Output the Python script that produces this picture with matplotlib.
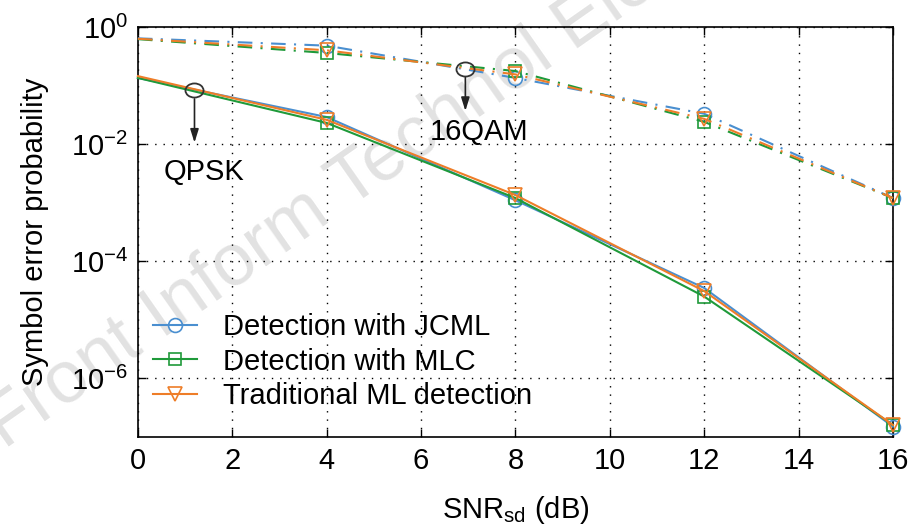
import matplotlib
matplotlib.use("Agg")
import matplotlib.pyplot as plt
import numpy as np
from matplotlib.path import Path
from matplotlib.transforms import Affine2D

plt.rcParams["font.family"] = ["Liberation Sans", "DejaVu Sans"]
plt.rcParams["mathtext.fontset"] = "custom"
plt.rcParams["mathtext.rm"] = "Liberation Sans"

snr = [0, 4, 8, 12, 16]

# QPSK (solid)
qpsk_jcml = [0.135, 0.029, 1.1e-3, 3.5e-5, 1.5e-7]
qpsk_mlc = [0.135, 0.023, 1.2e-3, 2.5e-5, 1.6e-7]
qpsk_ml = [0.145, 0.026, 1.35e-3, 3.1e-5, 1.6e-7]

# 16QAM (dash-dot)
qam_jcml = [0.64, 0.48, 0.135, 0.033, 1.2e-3]
qam_mlc = [0.62, 0.36, 0.177, 0.024, 1.2e-3]
qam_ml = [0.63, 0.40, 0.155, 0.027, 1.2e-3]

labels = ["Detection with JCML", "Detection with MLC", "Traditional ML detection"]
colors = ["#4a8fd0", "#1f9a3a", "#ee7d28"]
markers = ["o", "s", "v"]

fig = plt.figure(figsize=(9.13, 5.29), dpi=100)
ax = fig.add_axes([0.151, 0.174, 0.827, 0.775])
ax.set_facecolor("none")

# watermark
fig.text(0.005, 0.15, "Front Inform Technol Electron Eng", fontsize=53,
         color="#e2e2e2", rotation=35, rotation_mode="anchor",
         ha="left", va="baseline", zorder=-5)

ms = {"o": 10, "s": 9, "v": 10}
qpsk = [qpsk_jcml, qpsk_mlc, qpsk_ml]
qam = [qam_jcml, qam_mlc, qam_ml]
for i in range(3):
    ax.plot(snr, qpsk[i], color=colors[i], lw=1.5, marker=markers[i],
            ms=ms[markers[i]], mfc="none", mew=1.2, markevery=[1, 2, 3, 4],
            label=labels[i], zorder=3, clip_on=False)
    ax.plot(snr, qam[i], color=colors[i], lw=1.5, ls=(0, (7, 4, 1, 4)),
            marker=markers[i], ms=ms[markers[i]], mfc="none", mew=1.2,
            markevery=[1, 2, 3, 4], zorder=3, clip_on=False)

ax.set_yscale("log")
ax.set_xlim(0, 16)
ax.set_ylim(1e-7, 1)
ax.set_xticks(np.arange(0, 17, 2))
ax.set_yticks([1, 1e-2, 1e-4, 1e-6])
ax.set_yticklabels([r"$10^{0}$", r"$10^{-2}$", r"$10^{-4}$", r"$10^{-6}$"])
ax.yaxis.set_minor_locator(matplotlib.ticker.NullLocator())
ax.tick_params(axis="both", which="major", direction="in", length=6,
               width=1, top=True, right=True, labelsize=21, pad=7)
ax.grid(True, color="black", ls=(0, (1, 5)), lw=1.0)
for s in ax.spines.values():
    s.set_linewidth(1.2)

ax.set_xlabel(r"SNR$_{\rm sd}$ (dB)", fontsize=21, labelpad=14)
ax.set_ylabel("Symbol error probability", fontsize=21, labelpad=16)

# annotations with elliptical markers
ell = Path.unit_circle().transformed(Affine2D().scale(1.0, 0.78))
ax.plot([1.2], [0.083], marker=ell, ms=13, mfc="none", mec="#333333",
        mew=1.3, zorder=4)
ax.annotate("", xy=(1.2, 0.0095), xytext=(1.2, 0.066),
            arrowprops=dict(arrowstyle="-|>,head_length=0.8,head_width=0.25",
                            color="#222222", lw=1.2))
ax.text(1.4, 3.4e-3, "QPSK", fontsize=21, ha="center", va="center")
ax.plot([6.94], [0.195], marker=ell, ms=13, mfc="none", mec="#333333",
        mew=1.3, zorder=4)
ax.annotate("", xy=(6.94, 0.033), xytext=(6.94, 0.155),
            arrowprops=dict(arrowstyle="-|>,head_length=0.8,head_width=0.25",
                            color="#222222", lw=1.2))
ax.text(7.24, 0.016, "16QAM", fontsize=21, ha="center", va="center")

leg = ax.legend(loc="lower left", bbox_to_anchor=(0.005, 0.037), frameon=False,
                fontsize=21, handlelength=1.5, handletextpad=0.9,
                labelspacing=0.22, borderaxespad=0.0)

fig.savefig("out.png", dpi=100)
